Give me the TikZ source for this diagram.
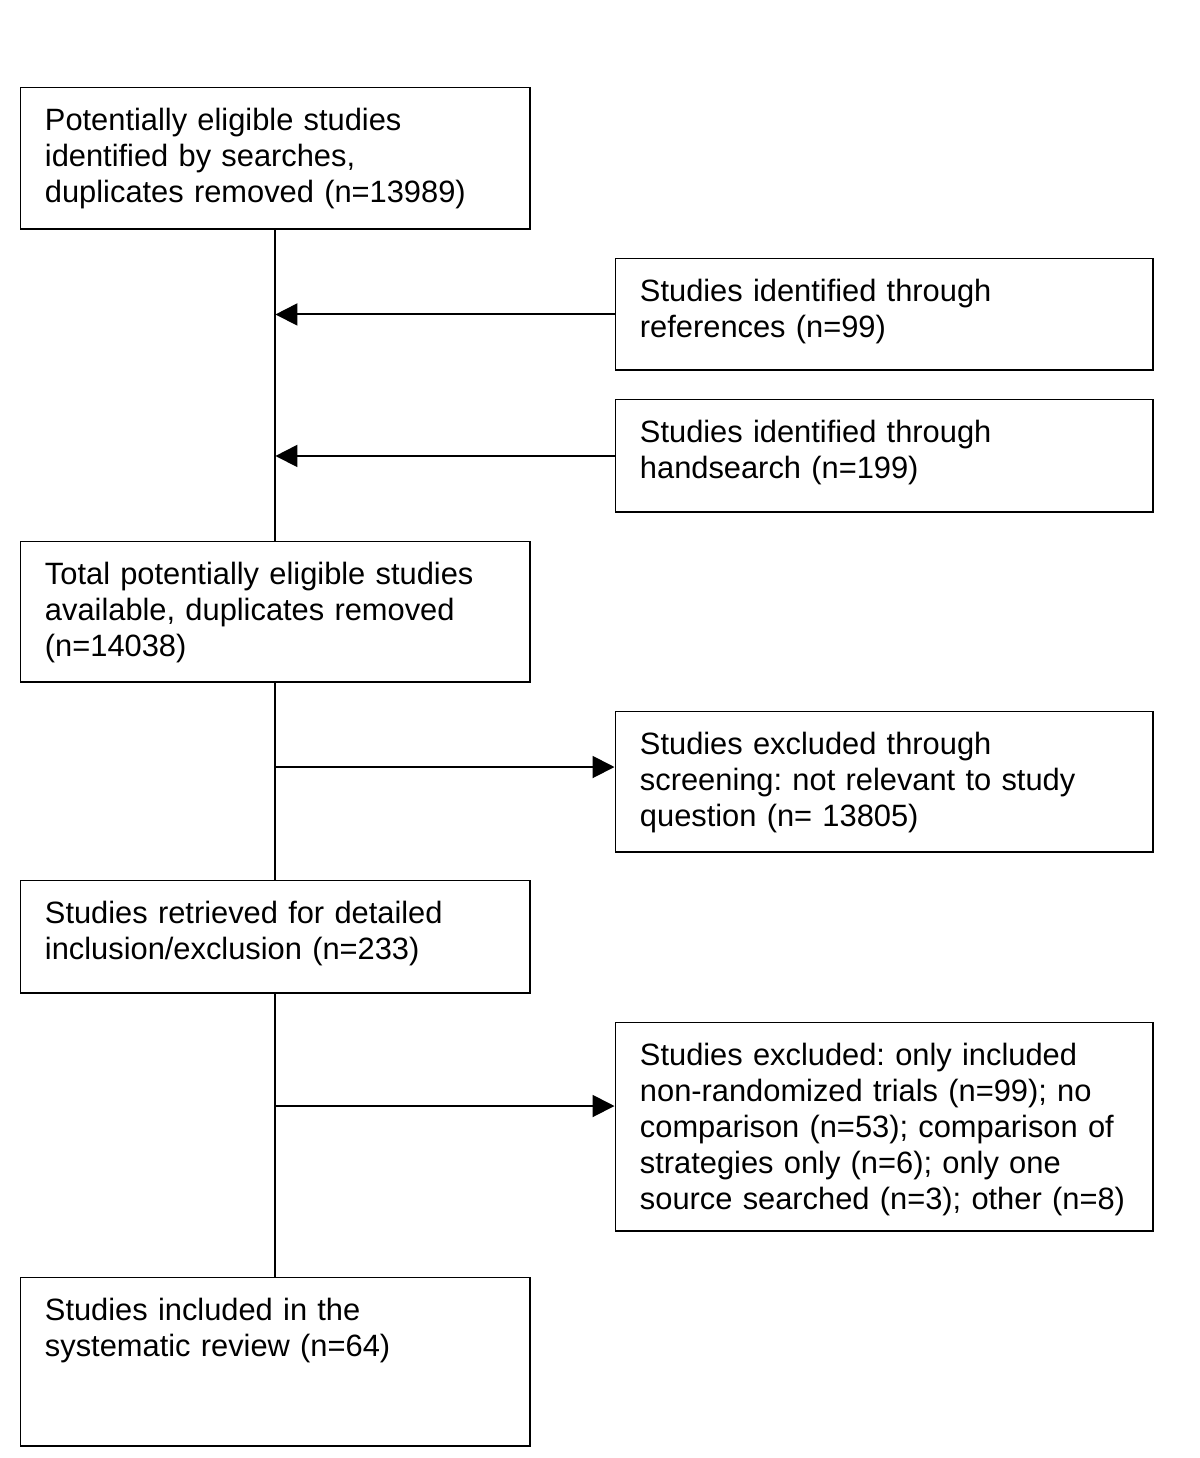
\documentclass[tikz,border=0pt]{standalone}
\usepackage{fontspec}
\setmainfont{Liberation Sans}
\usetikzlibrary{arrows.meta,positioning}
\frenchspacing

\begin{document}
\begin{tikzpicture}[x=0.02cm,y=-0.02cm,line width=1.1pt,
  >={Triangle[length=0.44cm,width=0.44cm]},
  box/.style={draw,anchor=north west,inner xsep=0.49cm,inner ysep=0pt,align=left,
    text height=0.86cm,font=\fontsize{17.55pt}{0.72cm}\selectfont},
  leftbox/.style={box,text width=9.22cm},
  rightbox/.style={box,text width=9.78cm}]
\useasboundingbox (0,0) rectangle (1200,1458);
% main column
\node[leftbox,text depth=1.98cm] (found) at (19.5,86.5)
  {Potentially eligible studies\\identified by searches,\\duplicates removed (n=13989)};
\node[leftbox,text depth=1.96cm] (total) at (19.5,540.5)
  {Total potentially eligible studies\\available, duplicates removed\\(n=14038)};
\node[leftbox,text depth=1.40cm] (retrieved) at (19.5,879.5)
  {Studies retrieved for detailed\\inclusion/exclusion (n=233)};
\node[leftbox,text depth=2.52cm] (included) at (19.5,1276.5)
  {Studies included in the\\systematic review (n=64)};
% side boxes
\node[rightbox,text depth=1.38cm] (refs) at (614.5,257.5)
  {Studies identified through\\references (n=99)};
\node[rightbox,text depth=1.40cm] (hand) at (614.5,398.5)
  {Studies identified through\\handsearch (n=199)};
\node[rightbox,text depth=1.96cm] (screen) at (614.5,710.5)
  {Studies excluded through\\screening: not relevant to study\\question (n= 13805)};
\node[rightbox,text depth=3.32cm] (excl) at (614.5,1021.5)
  {Studies excluded: only included\\non-randomized trials (n=99); no\\comparison (n=53); comparison of\\strategies only (n=6); only one\\source searched (n=3); other (n=8)};
\coordinate (split1) at (275,767);
\coordinate (split2) at (275,1106);
% connectors
\draw (found) -- (total) -- (retrieved) -- (included);
\draw[->] (refs.west) -- (refs.west -| found.south);
\draw[->] (hand.west) -- (hand.west -| found.south);
\draw[->] (split1) -- (split1 -| screen.west);
\draw[->] (split2) -- (split2 -| excl.west);
\end{tikzpicture}
\end{document}
